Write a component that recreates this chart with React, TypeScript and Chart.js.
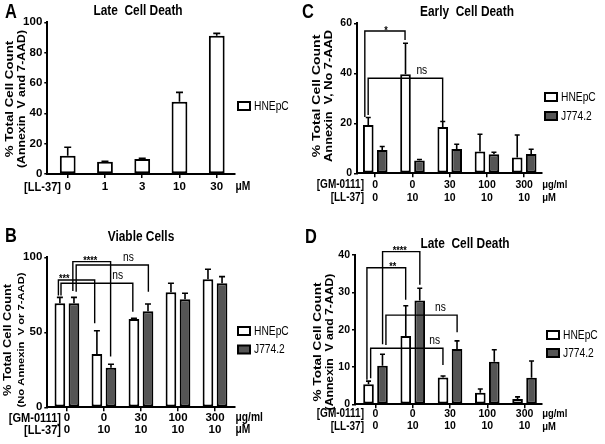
import { useEffect, useRef } from "react";
import { Chart, registerables } from "chart.js";

Chart.register(...registerables);

const NARROW = '"Liberation Sans Narrow", "Liberation Sans", Arial, sans-serif';
const FONT = '"Liberation Sans", Arial, sans-serif';
const SQ = 0.82;
const WHITE = "#ffffff";
const GREY = "#555555";

// ---------- data ----------
const seriesNames = ["HNEpC", "J774.2"];

// Panel A: Late cell death, LL-37 dose (µM)
const aLL37 = ["0", "1", "3", "10", "30"];
const aHNEpC = [12.1, 8.1, 9.9, 47.7, 91.2];
const aHNEpCErr = [5.5, 0.3, 0.4, 6.1, 1.5];

// Shared treatment labels for B, C, D
const gm0111 = ["0", "0", "30", "100", "300"];
const ll37 = ["0", "10", "10", "10", "10"];

// Panel B: Viable cells
const bHNEpC = [69.3, 35.5, 58.9, 76.7, 85.3];
const bHNEpCErr = [4.0, 15.5, 0.4, 6.0, 6.7];
const bJ774 = [69.3, 26.4, 64.0, 72.0, 82.7];
const bJ774Err = [4.0, 2.3, 4.9, 4.0, 4.4];

// Panel C: Early cell death
const cHNEpC = [19.3, 39.6, 18.5, 8.7, 6.3];
const cHNEpCErr = [3.0, 12.4, 2.2, 6.9, 9.0];
const cJ774 = [9.3, 5.1, 9.7, 7.6, 7.7];
const cJ774Err = [1.4, 0.4, 1.9, 0.8, 1.9];

// Panel D: Late cell death
const dHNEpC = [5.4, 18.3, 7.2, 3.1, 1.4];
const dHNEpCErr = [0.8, 8.1, 0.4, 1.0, 0.6];
const dJ774 = [10.3, 27.8, 14.8, 11.4, 7.1];
const dJ774Err = [3.1, 3.3, 2.2, 3.2, 4.5];

// Significance brackets (x in group units, y in data units)
type Bracket = { x1: number; x2: number; y: number; y1: number; y2: number; text: string; tx: number };
const bBrackets: Bracket[] = [
  { x1: -0.23, x2: 0.75, y: 84.9, y1: 74.5, y2: 56, text: "***", tx: -0.07 },
  { x1: -0.16, x2: 1.78, y: 82.7, y1: 74.5, y2: 63.7, text: "ns", tx: 1.37 },
  { x1: 0.16, x2: 1.18, y: 97.1, y1: 77.5, y2: 33.8, text: "****", tx: 0.63 },
  { x1: 0.25, x2: 2.2, y: 94.9, y1: 77, y2: 77, text: "ns", tx: 1.66 },
];
const cBrackets: Bracket[] = [
  { x1: -0.28, x2: 0.8, y: 56.9, y1: 22.5, y2: 53.3, text: "*", tx: 0.29 },
  { x1: -0.19, x2: 1.81, y: 38, y1: 23.3, y2: 20.9, text: "ns", tx: 1.25 },
];
const dBrackets: Bracket[] = [
  { x1: 0.19, x2: 1.19, y: 40.9, y1: 16.1, y2: 32, text: "****", tx: 0.65 },
  { x1: -0.23, x2: 0.81, y: 36.6, y1: 6.6, y2: 28, text: "**", tx: 0.46 },
  { x1: 0.28, x2: 2.19, y: 23.9, y1: 15.9, y2: 19.3, text: "ns", tx: 1.74 },
  { x1: -0.13, x2: 1.81, y: 15, y1: 7, y2: 10.5, text: "ns", tx: 1.59 },
];

// ---------- panel config ----------
type Series = { label: string; values: number[]; errors: number[]; fill: string };
type PanelCfg = {
  left: number; top: number; width: number; height: number;
  area: { left: number; top: number; right: number; bottom: number };
  xMin: number; xMax: number; yMax: number; yStep: number;
  catPct: number; barPct: number; capW: number;
  series: Series[];
  rows: string[][]; rowNames: string[]; units: string[]; rowYs: number[]; rowRight: number;
  tickSize: number; rowSize: number; unitSize: number;
  letter: string; letterPos: [number, number];
  title: string; titlePos: [number, number];
  yTitle: string[]; yTitleSizes: [number, number]; yTitleX: [number, number]; yTitleY: number;
  legendX: number; legendYs: number[];
  brackets: Bracket[];
};

const panels: PanelCfg[] = [
  {
    left: 0, top: 0, width: 300, height: 222,
    area: { left: 47.3, top: 22.3, right: 235, bottom: 174 },
    xMin: -0.548, xMax: 4.49, yMax: 100, yStep: 20,
    catPct: 0.8, barPct: 0.53, capW: 7,
    series: [{ label: seriesNames[0], values: aHNEpC, errors: aHNEpCErr, fill: WHITE }],
    rows: [aLL37], rowNames: ["[LL-37]"], units: ["\u03bcM"], rowYs: [187], rowRight: 61,
    tickSize: 11.5, rowSize: 13.5, unitSize: 12.5,
    letter: "A", letterPos: [5, 18],
    title: "Late  Cell Death", titlePos: [138, 15],
    yTitle: ["% Total Cell Count", "(Annexin  V and 7-AAD)"], yTitleSizes: [13.3, 12.3], yTitleX: [10, 22], yTitleY: 99,
    legendX: 238, legendYs: [106],
    brackets: [],
  },
  {
    left: 0, top: 222, width: 300, height: 222,
    area: { left: 47.3, top: 35.3, right: 235, bottom: 185.3 },
    xMin: -0.53, xMax: 4.54, yMax: 100, yStep: 50,
    catPct: 0.76, barPct: 0.76, capW: 6,
    series: [
      { label: seriesNames[0], values: bHNEpC, errors: bHNEpCErr, fill: WHITE },
      { label: seriesNames[1], values: bJ774, errors: bJ774Err, fill: GREY },
    ],
    rows: [gm0111, ll37], rowNames: ["[GM-0111]", "[LL-37]"], units: ["\u03bcg/ml", "\u03bcM"], rowYs: [196, 208], rowRight: 61,
    tickSize: 11.5, rowSize: 13.5, unitSize: 12.5,
    letter: "B", letterPos: [5, 20],
    title: "Viable Cells", titlePos: [141, 19],
    yTitle: ["% Total Cell Count", "(No Annexin  V or 7-AAD)"], yTitleSizes: [12.8, 11.2], yTitleX: [8, 21], yTitleY: 118,
    legendX: 238, legendYs: [109, 127.5],
    brackets: bBrackets,
  },
  {
    left: 300, top: 0, width: 305, height: 222,
    area: { left: 57, top: 23.3, right: 241.7, bottom: 173.3 },
    xMin: -0.49, xMax: 4.47, yMax: 60, yStep: 20,
    catPct: 0.75, barPct: 0.76, capW: 5,
    series: [
      { label: seriesNames[0], values: cHNEpC, errors: cHNEpCErr, fill: WHITE },
      { label: seriesNames[1], values: cJ774, errors: cJ774Err, fill: GREY },
    ],
    rows: [gm0111, ll37], rowNames: ["[GM-0111]", "[LL-37]"], units: ["\u03bcg/ml", "\u03bcM"], rowYs: [185, 198], rowRight: 64,
    tickSize: 10.5, rowSize: 12.2, unitSize: 11.5,
    letter: "C", letterPos: [2, 18],
    title: "Early  Cell Death", titlePos: [167, 16],
    yTitle: ["% Total Cell Count", "Annexin  V, No 7-AAD"], yTitleSizes: [14, 12.8], yTitleX: [17, 29], yTitleY: 96,
    legendX: 245, legendYs: [97, 116],
    brackets: cBrackets,
  },
  {
    left: 300, top: 222, width: 305, height: 222,
    area: { left: 55, top: 33, right: 241.7, bottom: 182.3 },
    xMin: -0.55, xMax: 4.46, yMax: 40, yStep: 10,
    catPct: 0.75, barPct: 0.76, capW: 5,
    series: [
      { label: seriesNames[0], values: dHNEpC, errors: dHNEpCErr, fill: WHITE },
      { label: seriesNames[1], values: dJ774, errors: dJ774Err, fill: GREY },
    ],
    rows: [gm0111, ll37], rowNames: ["[GM-0111]", "[LL-37]"], units: ["\u03bcg/ml", "\u03bcM"], rowYs: [192, 204.5], rowRight: 64,
    tickSize: 10.5, rowSize: 12.2, unitSize: 11.5,
    letter: "D", letterPos: [5, 21],
    title: "Late  Cell Death", titlePos: [165, 26],
    yTitle: ["% Total Cell Count", "(Annexin  V and 7-AAD)"], yTitleSizes: [13.6, 12.2], yTitleX: [18, 30], yTitleY: 120,
    legendX: 247, legendYs: [113, 131],
    brackets: dBrackets,
  },
];

// ---------- drawing helpers ----------
function txt(
  ctx: CanvasRenderingContext2D, s: string, x: number, y: number, size: number,
  weight: string, align: CanvasTextAlign, baseline: CanvasTextBaseline = "alphabetic", rot = false
) {
  ctx.save();
  ctx.translate(x, y);
  ctx.scale(SQ, 1);
  if (rot) ctx.rotate(-Math.PI / 2);
  ctx.font = `${weight} ${size}px ${FONT}`;
  ctx.textAlign = align;
  ctx.textBaseline = baseline;
  ctx.fillStyle = "#000";
  ctx.fillText(s, 0, 0);
  ctx.restore();
}

function makePlugin(cfg: PanelCfg) {
  return {
    id: "panelDecor" + cfg.letter,
    afterDatasetsDraw(chart: any) {
      const ctx: CanvasRenderingContext2D = chart.ctx;
      const xs = chart.scales.x;
      const ys = chart.scales.y;
      ctx.save();
      ctx.strokeStyle = "#000";
      ctx.lineWidth = 1.6;
      // error bars (upper only)
      cfg.series.forEach((s, di) => {
        const meta = chart.getDatasetMeta(di);
        meta.data.forEach((bar: any, i: number) => {
          const top = ys.getPixelForValue(s.values[i] + s.errors[i]);
          ctx.beginPath();
          ctx.moveTo(bar.x, bar.y);
          ctx.lineTo(bar.x, top);
          ctx.moveTo(bar.x - cfg.capW / 2, top);
          ctx.lineTo(bar.x + cfg.capW / 2, top);
          ctx.stroke();
        });
      });
      // significance brackets
      ctx.lineWidth = 1.4;
      cfg.brackets.forEach((b) => {
        const px1 = xs.getPixelForValue(b.x1);
        const px2 = xs.getPixelForValue(b.x2);
        const py = ys.getPixelForValue(b.y);
        ctx.beginPath();
        ctx.moveTo(px1, ys.getPixelForValue(b.y1));
        ctx.lineTo(px1, py);
        ctx.lineTo(px2, py);
        ctx.lineTo(px2, ys.getPixelForValue(b.y2));
        ctx.stroke();
        const star = b.text.indexOf("*") >= 0;
        txt(ctx, b.text, xs.getPixelForValue(b.tx), star ? py + 5 : py - 1.5,
          star ? 11 : 12.5, star ? "bold" : "normal", "center", "bottom");
      });
      ctx.restore();
    },
    afterDraw(chart: any) {
      const ctx: CanvasRenderingContext2D = chart.ctx;
      const area = chart.chartArea;
      ctx.save();
      // panel letter and title
      txt(ctx, cfg.letter, cfg.letterPos[0], cfg.letterPos[1], 20, "bold", "left");
      txt(ctx, cfg.title, cfg.titlePos[0], cfg.titlePos[1], 14.5, "bold", "center");
      // y axis title
      cfg.yTitle.forEach((line, i) => {
        txt(ctx, line, cfg.yTitleX[i], cfg.yTitleY, cfg.yTitleSizes[i], "bold", "center", "middle", true);
      });
      // row names and units
      cfg.rowNames.forEach((name, i) => {
        txt(ctx, name, cfg.rowRight, cfg.rowYs[i], cfg.rowSize, "bold", "right", "middle");
        txt(ctx, cfg.units[i], area.right + 0.5, cfg.rowYs[i], cfg.unitSize, "bold", "left", "middle");
      });
      // legend
      cfg.series.forEach((s, i) => {
        const y = cfg.legendYs[i];
        ctx.fillStyle = s.fill;
        ctx.fillRect(cfg.legendX, y - 4, 12, 8);
        ctx.strokeStyle = "#000";
        ctx.lineWidth = 2;
        ctx.strokeRect(cfg.legendX, y - 4, 12, 8);
        txt(ctx, s.label, cfg.legendX + 16, y + 0.5, 12.5, "normal", "left", "middle");
      });
      ctx.restore();
    },
  };
}

function Panel({ cfg }: { cfg: PanelCfg }) {
  const ref = useRef<HTMLCanvasElement | null>(null);
  useEffect(() => {
    const canvas = ref.current;
    if (!canvas) return;
    const tl = 4;
    const lh = cfg.rows.length > 1 ? cfg.rowYs[1] - cfg.rowYs[0] : cfg.tickSize * 1.2;
    const pad = cfg.rowYs[0] - cfg.area.bottom - tl - lh / 2;
    const chart = new Chart(canvas, {
      type: "bar",
      data: {
        datasets: cfg.series.map((s) => ({
          label: s.label,
          data: s.values.map((v, i) => ({ x: i, y: v })),
          backgroundColor: s.fill,
          borderColor: "#000",
          borderWidth: 2,
          borderSkipped: false,
          barPercentage: cfg.barPct,
          categoryPercentage: cfg.catPct,
        })),
      },
      options: {
        animation: false,
        responsive: false,
        devicePixelRatio: 1,
        events: [],
        layout: {
          autoPadding: false,
          padding: { left: 0, top: cfg.area.top, right: cfg.width - cfg.area.right, bottom: 0 },
        },
        plugins: { legend: { display: false }, tooltip: { enabled: false }, title: { display: false } },
        scales: {
          x: {
            type: "linear",
            min: cfg.xMin,
            max: cfg.xMax,
            offset: false,
            afterBuildTicks: (s: any) => {
              s.ticks = cfg.rows[0].map((_, i) => ({ value: i }));
            },
            afterFit: (s: any) => {
              s.height = cfg.height - cfg.area.bottom;
            },
            grid: { offset: false, drawOnChartArea: false, drawTicks: true, tickLength: tl, color: "#000", lineWidth: 1.5 },
            border: { display: true, color: "#000", width: 2 },
            ticks: {
              autoSkip: false,
              maxRotation: 0,
              minRotation: 0,
              padding: pad,
              color: "#000",
              font: { family: NARROW, size: cfg.tickSize, weight: "bold", lineHeight: lh / cfg.tickSize },
              callback: (v: any) => {
                const i = Math.round(Number(v));
                return cfg.rows.length > 1 ? cfg.rows.map((r) => r[i]) : cfg.rows[0][i];
              },
            },
          },
          y: {
            type: "linear",
            min: 0,
            max: cfg.yMax,
            afterFit: (s: any) => {
              s.width = cfg.area.left;
            },
            grid: { drawOnChartArea: false, drawTicks: true, tickLength: 3, color: "#000", lineWidth: 1.5 },
            border: { display: true, color: "#000", width: 2 },
            ticks: {
              stepSize: cfg.yStep,
              padding: 2,
              color: "#000",
              font: { family: NARROW, size: cfg.tickSize, weight: "bold" },
            },
          },
        },
      } as any,
      plugins: [makePlugin(cfg)],
    });
    return () => chart.destroy();
  }, [cfg]);
  return (
    <canvas
      ref={ref}
      width={cfg.width}
      height={cfg.height}
      style={{ position: "absolute", left: cfg.left, top: cfg.top, width: cfg.width, height: cfg.height }}
    />
  );
}

export default function App() {
  return (
    <div style={{ position: "fixed", left: 0, top: 0, width: 605, height: 444, background: "#fff", overflow: "hidden" }}>
      {panels.map((p) => (
        <Panel key={p.letter} cfg={p} />
      ))}
    </div>
  );
}
